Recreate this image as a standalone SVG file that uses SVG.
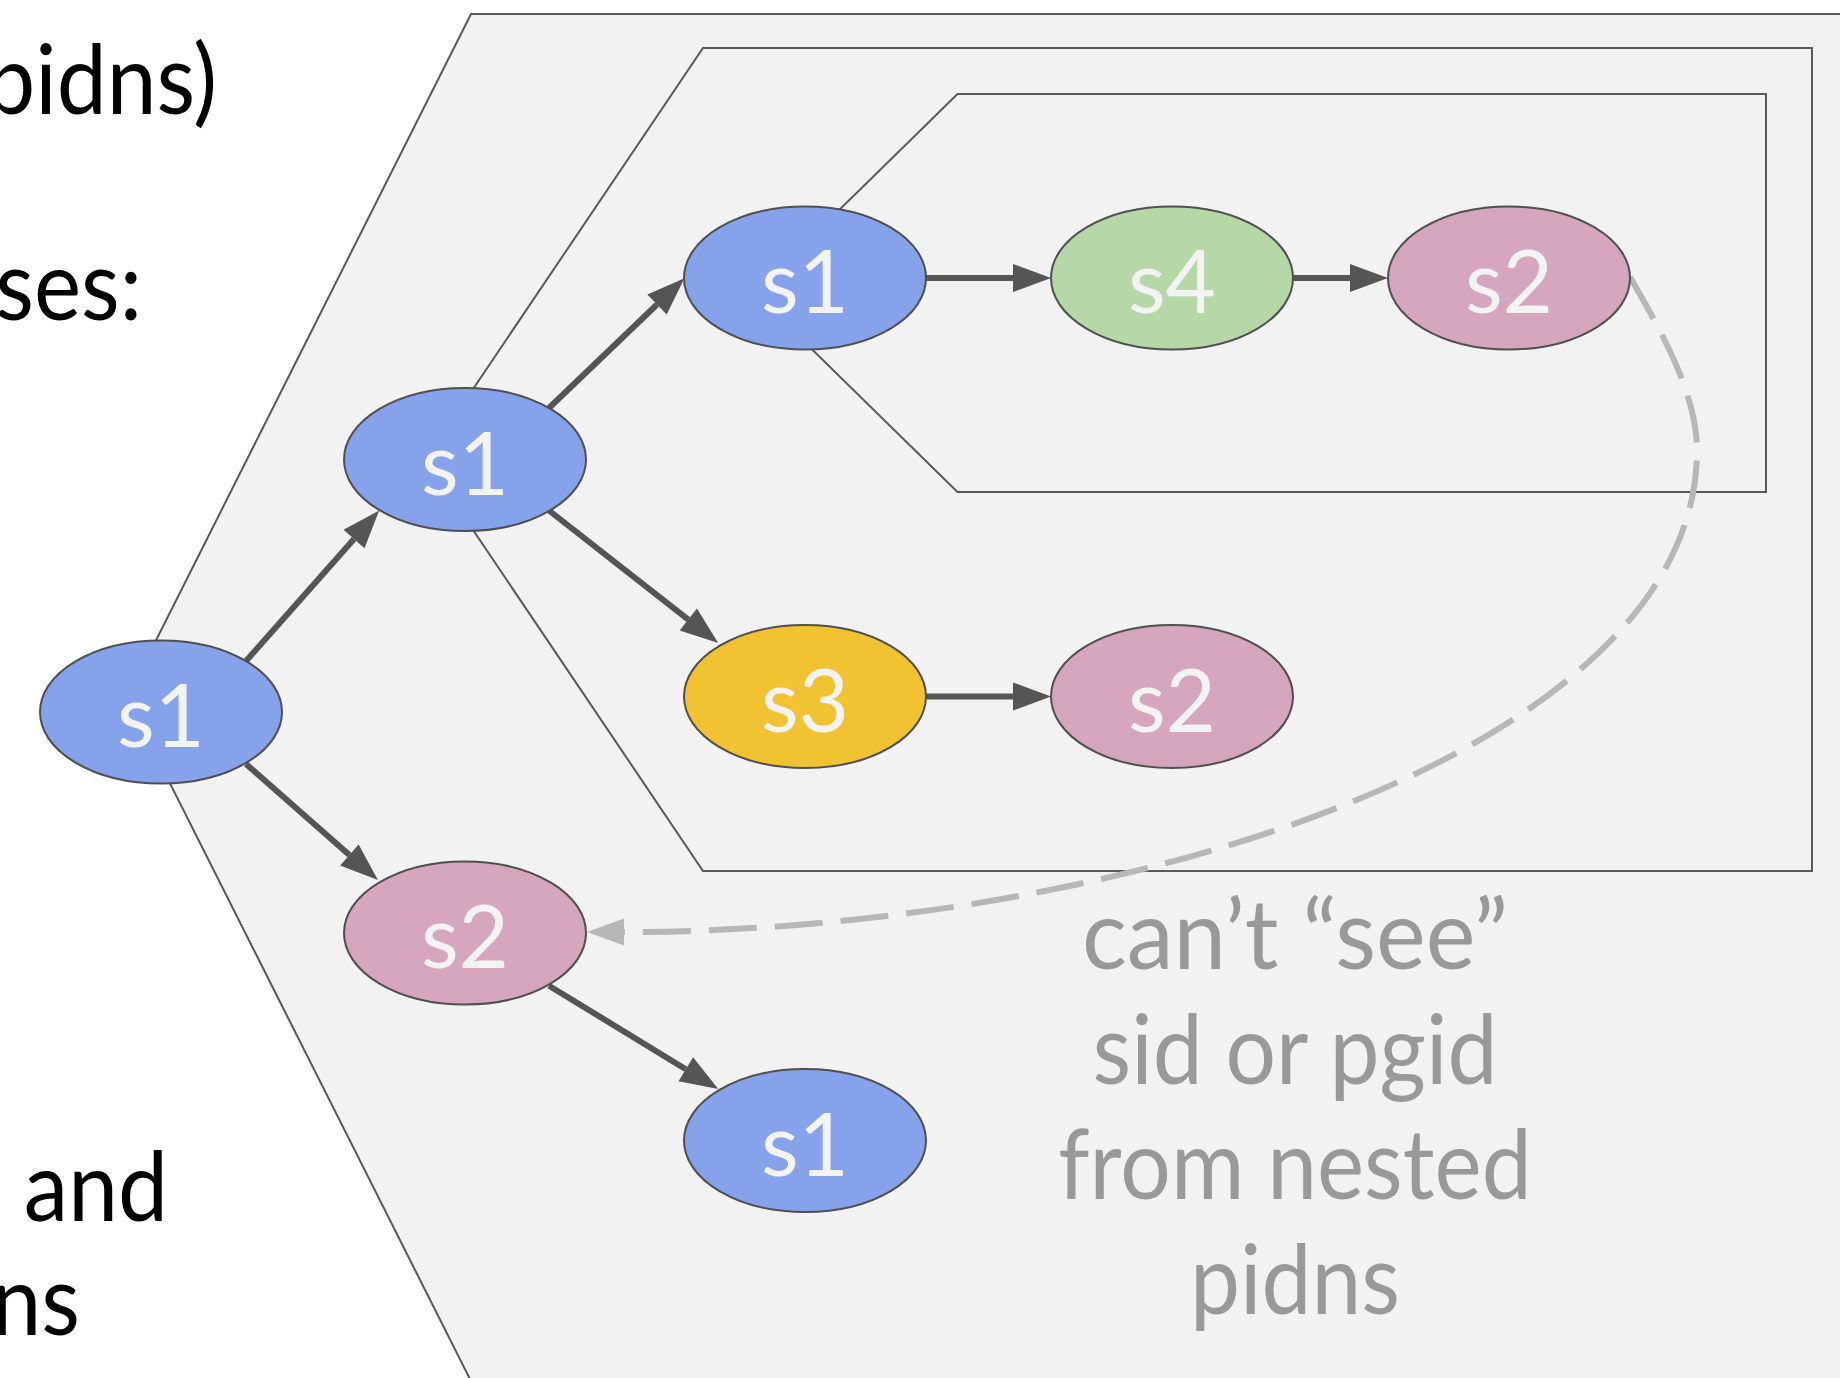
<svg xmlns="http://www.w3.org/2000/svg" width="1840" height="1378" viewBox="0 0 1840 1378">
  <defs>
    <style>
      .box { fill: #f2f2f2; stroke: #595959; stroke-width: 2; }
      .node ellipse { stroke: #4f4f4f; stroke-width: 2; }
      .blue { fill: #86a2ea; }
      .green { fill: #b6d7a8; }
      .pink { fill: #d5a6bd; }
      .yellow { fill: #f1c232; }
      .label { font-family: Lato, "Liberation Sans", sans-serif; font-size: 87px; fill: #f3f3f3; text-anchor: middle; }
      .edge { stroke: #555555; stroke-width: 6; fill: none; marker-end: url(#arrow); }
      .dash { stroke: #b7b7b7; stroke-width: 6; stroke-dasharray: 48 18; fill: none; marker-end: url(#arrow-gray); }
      .side { font-family: Lato, "Liberation Sans", sans-serif; font-size: 96px; fill: #000000; text-anchor: end; }
      .note { font-family: Lato, "Liberation Sans", sans-serif; font-size: 96px; fill: #999999; text-anchor: middle; }
    </style>
    <marker id="arrow" markerUnits="userSpaceOnUse" markerWidth="38" markerHeight="28" refX="0" refY="14" orient="auto" overflow="visible">
      <path d="M0,0 L38,14 L0,28 z" fill="#555555"/>
    </marker>
    <marker id="arrow-gray" markerUnits="userSpaceOnUse" markerWidth="37" markerHeight="27" refX="0" refY="13.5" orient="auto" overflow="visible">
      <path d="M0,0 L37,13.5 L0,27 z" fill="#b7b7b7"/>
    </marker>
  </defs>

  <rect x="0" y="0" width="1840" height="1378" fill="#ffffff"/>

  <!-- side text, partly running off the left edge (narrowed to a Calibri-like width) -->
  <g id="side-text">
    <text class="side" transform="translate(217,114) scale(0.93,1)">pidns)</text>
    <text class="side" transform="translate(142,320) scale(0.93,1)">ses:</text>
    <text class="side" transform="translate(168,1221) scale(0.93,1)">and</text>
    <text class="side" transform="translate(80,1335) scale(0.93,1)">ns</text>
  </g>

  <!-- nested pid namespaces -->
  <g id="pidns-outer">
    <polygon class="box" points="471,14 1850,14 1850,1400 480.5,1400 127,698"/>
  </g>
  <g id="pidns-middle">
    <polygon class="box" points="703,48 1812,48 1812,871 703,871 425.5,459.5"/>
  </g>
  <g id="pidns-inner">
    <polygon class="box" points="957.5,94 1766,94 1766,492 957.5,492 754.5,293"/>
  </g>

  <!-- connectors -->
  <g id="connectors">
    <path class="edge" d="M246,661 L354,539"/>
    <path class="edge" d="M246,764 L349.4,854.9"/>
    <path class="edge" d="M549,408 L657,304.5"/>
    <path class="edge" d="M549,510.5 L688.3,619.6"/>
    <path class="edge" d="M926,278 L1013,278"/>
    <path class="edge" d="M1293,278 L1350,278"/>
    <path class="edge" d="M926,696.5 L1013,696.5"/>
    <path class="edge" d="M549,985.7 L685.8,1069.2"/>
    <path class="dash" d="M1630,277 C1655,321 1697,390 1697,450 C1697,750 1124,932 624,932"/>
  </g>

  <!-- processes -->
  <g id="node-a" class="node">
    <ellipse class="blue" cx="161" cy="712" rx="121" ry="71.5"/>
    <text class="label" x="161" y="747">s1</text>
  </g>
  <g id="node-b" class="node">
    <ellipse class="blue" cx="465" cy="459.5" rx="121" ry="71.5"/>
    <text class="label" x="465" y="494.5">s1</text>
  </g>
  <g id="node-c" class="node">
    <ellipse class="blue" cx="805" cy="278" rx="121" ry="71.5"/>
    <text class="label" x="805" y="313">s1</text>
  </g>
  <g id="node-d" class="node">
    <ellipse class="green" cx="1172" cy="278" rx="121" ry="71.5"/>
    <text class="label" x="1172" y="313">s4</text>
  </g>
  <g id="node-e" class="node">
    <ellipse class="pink" cx="1509" cy="278" rx="121" ry="71.5"/>
    <text class="label" x="1509" y="313">s2</text>
  </g>
  <g id="node-f" class="node">
    <ellipse class="yellow" cx="805" cy="696.5" rx="121" ry="71.5"/>
    <text class="label" x="805" y="731.5">s3</text>
  </g>
  <g id="node-g" class="node">
    <ellipse class="pink" cx="1172" cy="696.5" rx="121" ry="71.5"/>
    <text class="label" x="1172" y="731.5">s2</text>
  </g>
  <g id="node-h" class="node">
    <ellipse class="pink" cx="465" cy="933" rx="121" ry="71.5"/>
    <text class="label" x="465" y="968">s2</text>
  </g>
  <g id="node-i" class="node">
    <ellipse class="blue" cx="805" cy="1140.5" rx="121" ry="71.5"/>
    <text class="label" x="805" y="1175.5">s1</text>
  </g>

  <!-- annotation -->
  <g id="note">
    <text class="note" transform="translate(1295,969) scale(0.98,1)">can’t “see”</text>
    <text class="note" transform="translate(1295,1084) scale(0.93,1)">sid or pgid</text>
    <text class="note" transform="translate(1295,1199) scale(0.93,1)">from nested</text>
    <text class="note" transform="translate(1295,1314) scale(0.93,1)">pidns</text>
  </g>
</svg>
